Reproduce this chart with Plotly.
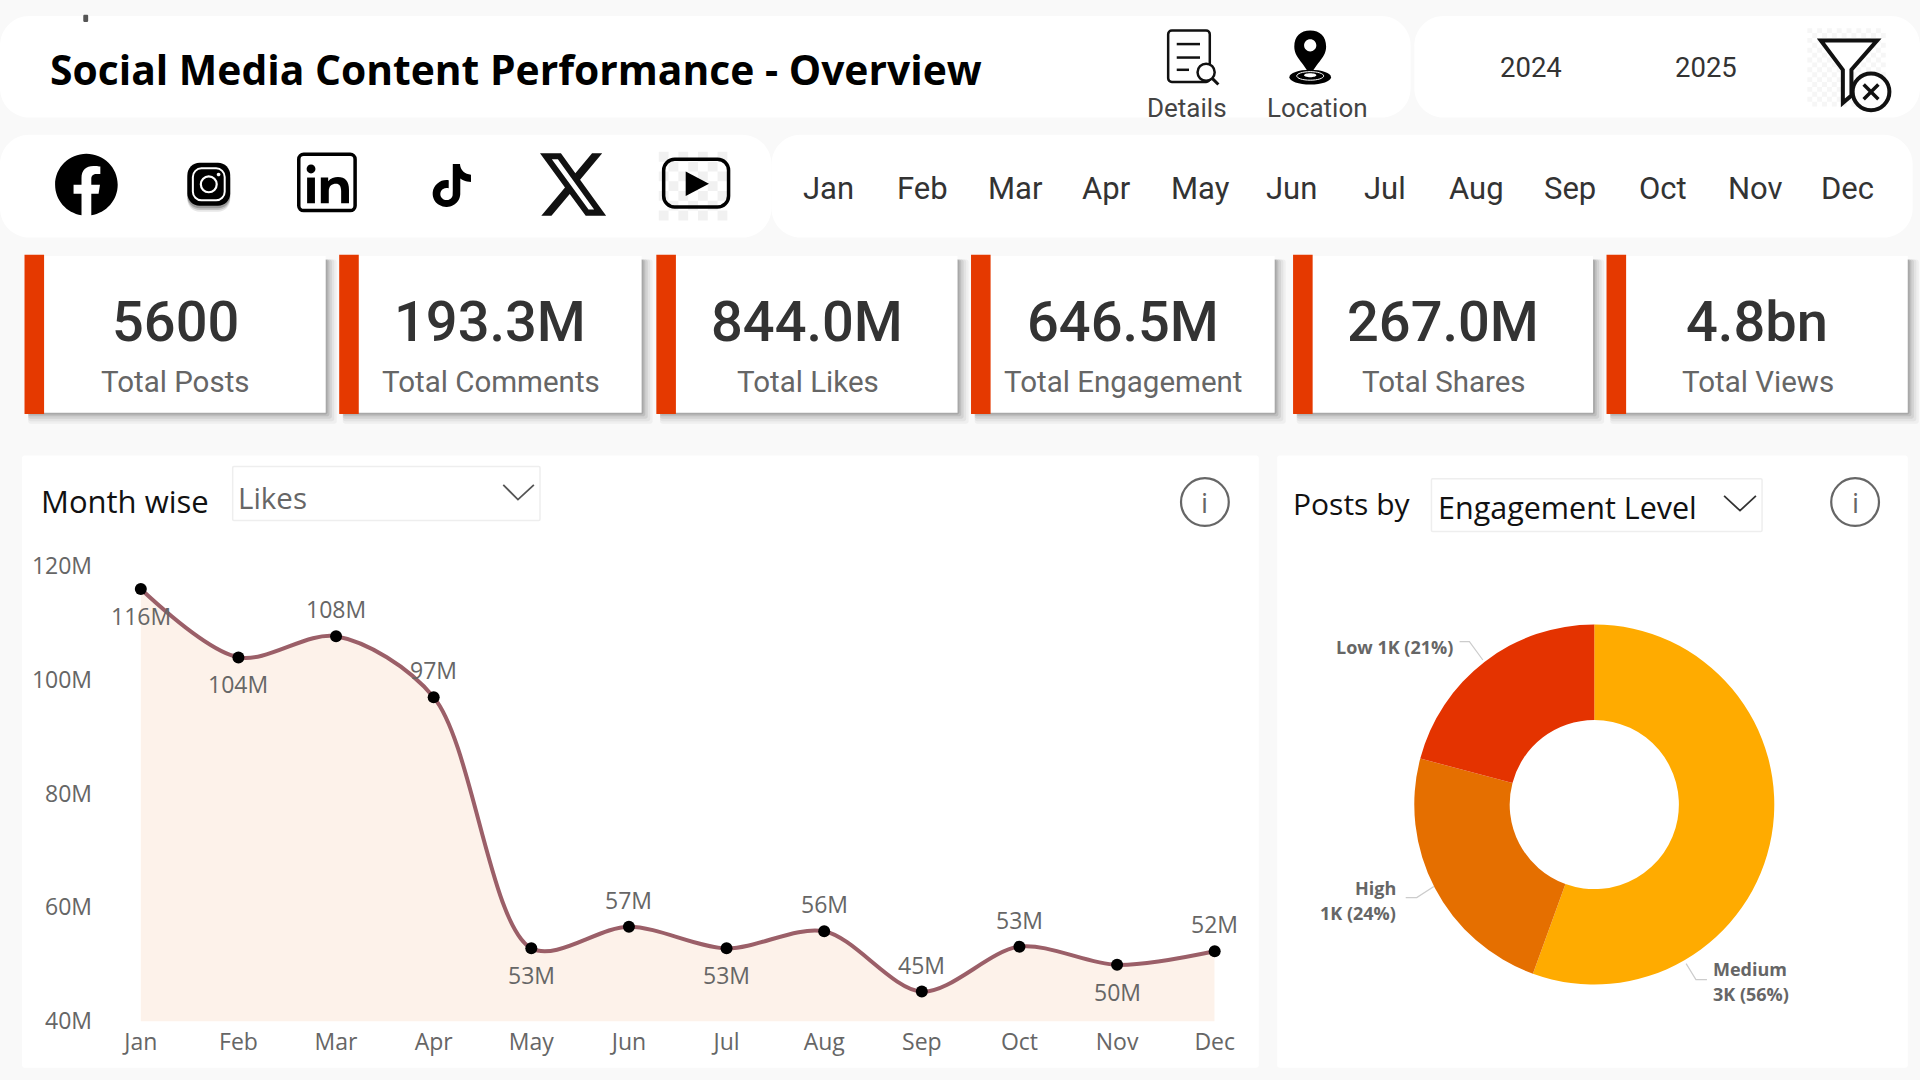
import re
import plotly.graph_objects as go

# ---------- data ----------
months = ["Jan", "Feb", "Mar", "Apr", "May", "Jun", "Jul", "Aug", "Sep", "Oct", "Nov", "Dec"]
likes_m = [115.9, 103.9, 107.6, 96.9, 52.8, 56.6, 52.8, 55.8, 45.2, 53.1, 49.9, 52.3]
y_ticks = [40, 60, 80, 100, 120]
y_tick_labels = ["40M", "60M", "80M", "100M", "120M"]
levels = ["Medium", "High", "Low"]
level_posts = [3110, 1320, 1170]
level_short = ["3K", "1K", "1K"]
level_pct = [56, 24, 21]
kpi_values = ["5600", "193.3M", "844.0M", "646.5M", "267.0M", "4.8bn"]
kpi_names = ["Total Posts", "Total Comments", "Total Likes", "Total Engagement", "Total Shares", "Total Views"]
years = ["2024", "2025"]

# ---------- page helpers (coordinates on a 1568 x 882 sheet) ----------
W, H = 1568.0, 882.0
shapes, notes = [], []
SEGOE = "Open Sans"
DIN = "Roboto"


def transform(d, sx=1.0, sy=1.0, ox=0.0, oy=0.0):
    toks = re.findall(r"[MmLlHhVvCcQqSsZz]|[-+]?(?:\d*\.\d+|\d+\.?)", d)
    out, i, cmd = [], 0, None
    cx = cy = sx0 = sy0 = 0.0
    lc = None

    def pt(x, y):
        return f"{(ox + sx * x) / W:.5f},{1 - (oy + sy * y) / H:.5f}"

    def num():
        nonlocal i
        v = float(toks[i])
        i += 1
        return v

    while i < len(toks):
        if re.match(r"[A-Za-z]", toks[i]):
            cmd = toks[i]
            i += 1
            if cmd in "Zz":
                out.append("Z")
                cx, cy = sx0, sy0
                continue
        rel = cmd.islower()
        c = cmd.upper()
        if c == "M" or c == "L":
            x, y = num(), num()
            if rel:
                x, y = x + cx, y + cy
            out.append(("M" if c == "M" else "L") + pt(x, y))
            if c == "M":
                sx0, sy0 = x, y
                cmd = "l" if rel else "L"
            cx, cy = x, y
        elif c == "H":
            x = num()
            cx = x + cx if rel else x
            out.append("L" + pt(cx, cy))
        elif c == "V":
            y = num()
            cy = y + cy if rel else y
            out.append("L" + pt(cx, cy))
        elif c == "C" or c == "S":
            if c == "C":
                x1, y1 = num(), num()
                if rel:
                    x1, y1 = x1 + cx, y1 + cy
            else:
                x1, y1 = (2 * cx - lc[0], 2 * cy - lc[1]) if lc else (cx, cy)
            x2, y2, x, y = num(), num(), num(), num()
            if rel:
                x2, y2, x, y = x2 + cx, y2 + cy, x + cx, y + cy
            out.append("C" + pt(x1, y1) + " " + pt(x2, y2) + " " + pt(x, y))
            lc = (x2, y2)
            cx, cy = x, y
        elif c == "Q":
            x1, y1, x, y = num(), num(), num(), num()
            if rel:
                x1, y1, x, y = x1 + cx, y1 + cy, x + cx, y + cy
            out.append("Q" + pt(x1, y1) + " " + pt(x, y))
            cx, cy = x, y
    return " ".join(out)


def draw(d, fill=None, stroke=None, width=0, **tf):
    shapes.append(dict(
        type="path", xref="paper", yref="paper", layer="below", path=transform(d, **tf),
        fillcolor=fill if fill else "rgba(0,0,0,0)",
        line=dict(color=stroke if stroke else "rgba(0,0,0,0)", width=width),
    ))


def rr(x0, y0, x1, y1, r):
    k = r * 0.45
    return (f"M{x0 + r} {y0}L{x1 - r} {y0}C{x1 - k} {y0} {x1} {y0 + k} {x1} {y0 + r}"
            f"L{x1} {y1 - r}C{x1} {y1 - k} {x1 - k} {y1} {x1 - r} {y1}"
            f"L{x0 + r} {y1}C{x0 + k} {y1} {x0} {y1 - k} {x0} {y1 - r}"
            f"L{x0} {y0 + r}C{x0} {y0 + k} {x0 + k} {y0} {x0 + r} {y0}Z")


def ell(cx, cy, rx, ry=None):
    ry = rx if ry is None else ry
    a, b = rx * 0.5523, ry * 0.5523
    return (f"M{cx - rx} {cy}C{cx - rx} {cy - b} {cx - a} {cy - ry} {cx} {cy - ry}"
            f"C{cx + a} {cy - ry} {cx + rx} {cy - b} {cx + rx} {cy}"
            f"C{cx + rx} {cy + b} {cx + a} {cy + ry} {cx} {cy + ry}"
            f"C{cx - a} {cy + ry} {cx - rx} {cy + b} {cx - rx} {cy}Z")


def checker(x0, y0, x1, y1, step, color):
    parts = []
    for r in range(int((y1 - y0) // step)):
        for c in range(int((x1 - x0) // step)):
            if (r + c) % 2 == 0:
                a, b = x0 + c * step, y0 + r * step
                parts.append(f"M{a} {b}L{a + step} {b}L{a + step} {b + step}L{a} {b + step}Z")
    draw("".join(parts), fill=color)


def text(x, y, s, size, color="#333333", family=SEGOE, anchor="center", weight="normal"):
    notes.append(dict(
        xref="paper", yref="paper", x=x / W, y=1 - y / H, text=s, showarrow=False,
        xanchor=anchor, yanchor="middle", align=anchor,
        font=dict(size=size, color=color, family=family, weight=weight),
    ))


# ---------- panels ----------
WHITE = "#FFFFFF"
draw(rr(0, 13, 1152, 96, 24), fill=WHITE)
draw(rr(1155, 13, 1568, 96, 24), fill=WHITE)
draw(rr(0, 110, 630, 194, 24), fill=WHITE)
draw(rr(630, 110, 1562, 194, 24), fill=WHITE)
draw(rr(18, 372, 1028, 872, 2), fill=WHITE)
draw(rr(1043, 372, 1558, 872, 2), fill=WHITE)
draw(rr(68, 12, 72, 18, 1), fill="#555555")

# header
text(39, 56, "Social Media Content Performance - Overview", 40.8, color="#000000", anchor="left", weight="bold")
text(969, 88, "Details", 26, color="#444444", family=DIN)
text(1076, 88, "Location", 26, color="#444444", family=DIN)
for xc, yr in zip([1250, 1393], years):
    text(xc, 55, yr, 27.5, color="#333333", family=DIN)

# details icon
draw(rr(954, 25, 988, 67, 3), fill=WHITE, stroke="#111111", width=2.5)
for yy, x2 in [(36, 980), (47, 980), (57, 971)]:
    draw(f"M961 {yy}L{x2} {yy}", stroke="#111111", width=2.5)
draw(ell(985, 59, 7), fill=WHITE, stroke="#111111", width=2.5)
draw("M990 64L995 69", stroke="#111111", width=3)

# location icon
draw("M1070 62C1064 50 1057 47 1057 38C1057 30 1062 25 1070 25C1078 25 1083 30 1083 38C1083 47 1076 50 1070 62Z"
     + ell(1070, 37, 5), fill="#000000")
draw(ell(1070, 63, 17, 6), fill="#000000")
draw(ell(1070, 62, 11, 3.5), stroke="#FFFFFF", width=1)
draw(ell(1070, 61.5, 5, 1.6), fill="#FFFFFF")

# filter-clear icon
checker(1476, 23, 1541, 88, 4, "#F6F6F6")
draw("M1487 33L1533 33L1512 57L1512 78L1505 84L1505 57Z", stroke="#111111", width=4, fill=WHITE)
draw(ell(1528, 75, 15), fill=WHITE, stroke="#111111", width=4)
draw("M1522 69L1534 81M1534 69L1522 81", stroke="#111111", width=3.5)

# social icons
FB = ("M24 12.073c0-6.627-5.373-12-12-12s-12 5.373-12 12c0 5.99 4.388 10.954 10.125 11.854v-8.385H7.078v-3.47h3.047"
      "V9.43c0-3.007 1.792-4.669 4.533-4.669 1.312 0 2.686.235 2.686.235v2.953H15.83c-1.491 0-1.956.925-1.956 1.874"
      "v2.25h3.328l-.532 3.47h-2.796v8.385C19.612 23.027 24 18.062 24 12.073z")
XI = "M18.901 1.153h3.68l-8.04 9.19L24 22.846h-7.406l-5.8-7.584-6.638 7.584H.474l8.6-9.83L0 1.154h7.594l5.243 6.932ZM17.61 20.644h2.039L6.486 3.24H4.298Z"
TT = ("M12.525.02c1.31-.02 2.61-.01 3.91-.02.08 1.53.63 3.09 1.75 4.17 1.12 1.11 2.7 1.62 4.24 1.79v4.03c-1.44-.05-2.89-.35-4.2-.97"
      "-.57-.26-1.1-.59-1.62-.93-.01 2.92.01 5.84-.02 8.75-.08 1.4-.54 2.79-1.35 3.94-1.31 1.92-3.58 3.17-5.91 3.21-1.43.08-2.86-.31-4.08-1.03"
      "-2.02-1.19-3.44-3.37-3.65-5.71-.02-.5-.03-1-.01-1.49.18-1.9 1.12-3.72 2.58-4.96 1.66-1.44 3.98-2.13 6.15-1.72.02 1.48-.04 2.96-.04 4.44"
      "-.99-.32-2.15-.23-3.02.37-.63.41-1.11 1.04-1.36 1.75-.21.51-.15 1.07-.14 1.61.24 1.64 1.82 3.02 3.5 2.87 1.12-.01 2.19-.66 2.77-1.61"
      ".19-.33.4-.67.41-1.06.1-1.79.06-3.57.07-5.36.01-4.03-.01-8.05.02-12.07z")
draw(FB, fill="#000000", sx=2.13, sy=2.1, ox=45, oy=125.5)
draw(XI, fill="#111111", sx=2.25, sy=2.35, ox=441, oy=122.5)
draw(TT, fill="#000000", sx=1.5, sy=1.46, ox=351, oy=134)
# instagram
for grow, op in [(4, 0.12), (2.5, 0.2), (1, 0.3)]:
    draw(rr(153, 136, 188, 169 + grow, 10), fill=f"rgba(60,60,60,{op})")
draw(rr(153, 133, 188, 168, 10), fill="#000000")
draw(rr(157.5, 137.5, 183.5, 163.5, 7), fill="#000000", stroke="#FFFFFF", width=2)
draw(ell(170.5, 150.5, 6.5), stroke="#FFFFFF", width=2.2)
draw(ell(178.5, 142.5, 1.5), fill="#FFFFFF")
# linkedin
draw(rr(244, 126, 290, 172, 4), fill=WHITE, stroke="#000000", width=3.5)
draw(ell(254, 138, 3.6), fill="#000000")
draw("M250.8 145L257.2 145L257.2 166L250.8 166Z", fill="#000000")
draw("M262 145L268 145L268 148C270 145.5 273 144.5 276 144.5C282 144.5 285 148 285 155L285 166L278.6 166L278.6 156"
     "C278.6 152 277 150 274.500 150C271 150 268.500 152 268.500 156L268.500 166L262 166Z", fill="#000000")
# youtube
checker(538, 124, 598, 180, 8, "#F1F1F1")
draw(rr(542, 130, 595, 169, 9), stroke="#000000", width=3.5)
draw("M560 140L560 160L579 150Z", fill="#000000")

# month slicer
slicer_x = [677, 753, 829, 904, 980, 1055, 1131, 1206, 1282, 1358, 1434, 1509]
for xc, m in zip(slicer_x, months):
    text(xc, 154, m, 31, color="#333333", family=DIN)

# KPI cards
card_left = [20, 277, 536, 793, 1056, 1312]
card_right = [266, 524, 782, 1041, 1301, 1558]
for x0, x1, val, name in zip(card_left, card_right, kpi_values, kpi_names):
    for off, op in [(9, 0.06), (7, 0.08), (5, 0.12), (3, 0.16), (1.5, 0.22)]:
        draw(rr(x0 + 3, 212, x1 + off, 337 + off, 2), fill=f"rgba(90,90,90,{op})")
    draw(rr(x0, 209, x1, 337, 0.1), fill=WHITE)
    draw(rr(x0, 208, x0 + 16, 338, 0.1), fill="#E53900")
    xc = (x0 + x1) / 2
    text(xc, 263, val, 56, color="#333333", family=DIN, weight=500)
    text(xc + 0.5, 312, name, 29.5, color="#666666", family=DIN)

# chart headers
text(32, 409, "Month wise", 31, color="#111111", anchor="left")
draw(rr(190, 381, 441, 425, 1), fill=WHITE, stroke="#EEEEEE", width=1.5)
text(193, 406, "Likes", 29.5, color="#666666", anchor="left")
draw("M411 396L423 408L436 396", stroke="#555555", width=1.8)
draw(ell(984, 410, 19.5), stroke="#666666", width=2.2)
text(984, 410, "i", 28, color="#666666")

text(1054, 411, "Posts by", 30, color="#111111", anchor="left")
draw(rr(1169, 391, 1439, 434, 1), fill=WHITE, stroke="#EEEEEE", width=1.5)
text(1173, 414, "Engagement Level", 30.5, color="#111111", anchor="left")
draw("M1408 405L1421 417L1434 405", stroke="#333333", width=1.8)
draw(ell(1515, 410, 19.5), stroke="#666666", width=2.2)
text(1515, 410, "i", 28, color="#666666")

# donut labels and leaders
draw("M1192 524L1200 524L1211 539", stroke="#CCCCCC", width=1.2)
draw("M1148 733L1157 733L1171 724", stroke="#CCCCCC", width=1.2)
draw("M1377 787L1385 800L1394 800", stroke="#CCCCCC", width=1.2)
LBL = dict(size=18, color="#666666", weight="bold")
idx = {n: i for i, n in enumerate(levels)}
i = idx["Low"]
text(1188, 528, f"{levels[i]} {level_short[i]} ({level_pct[i]}%)", anchor="right", **LBL)
i = idx["High"]
text(1142, 725, levels[i], anchor="right", **LBL)
text(1142, 746, f"{level_short[i]} ({level_pct[i]}%)", anchor="right", **LBL)
i = idx["Medium"]
text(1397, 791, levels[i], anchor="left", **LBL)
text(1397, 812, f"{level_short[i]} ({level_pct[i]}%)", anchor="left", **LBL)

# ---------- data labels on the line ----------
label_side = [-1, -1, 1, 1, -1, 1, -1, 1, 1, 1, -1, 1]
for m, v, side in zip(months, likes_m, label_side):
    notes.append(dict(
        xref="x", yref="y", x=m, y=v, text=f"{v:.0f}M", showarrow=False, yshift=27 * side,
        xanchor="center", yanchor="middle", font=dict(size=23, color="#666666", family=SEGOE),
    ))

# ---------- traces ----------
line = go.Scatter(
    x=months, y=likes_m, mode="lines+markers", cliponaxis=False,
    line=dict(color="#9B5F68", width=4, shape="spline", smoothing=0.9),
    marker=dict(color="#000000", size=12),
    fill="tozeroy", fillcolor="#FDF2EA",
    hoverinfo="x+y",
)
donut = go.Pie(
    labels=levels, values=level_posts, hole=0.47, sort=False, direction="clockwise", rotation=0,
    marker=dict(colors=["#FFAB00", "#E56F00", "#E43300"], line=dict(width=0)),
    textinfo="none", domain=dict(x=[(1302 - 147) / W, (1302 + 147) / W], y=[1 - (657 + 147) / H, 1 - (657 - 147) / H]),
)

fig = go.Figure([line, donut])
fig.update_layout(
    width=1920, height=1080, autosize=False, margin=dict(l=0, r=0, t=0, b=0, pad=0, autoexpand=False),
    paper_bgcolor="#F9F9F9", plot_bgcolor="rgba(0,0,0,0)", showlegend=False,
    shapes=shapes, annotations=notes, font=dict(family=SEGOE),
    xaxis=dict(domain=[76 / W, 992 / W], range=[-0.489, 11], type="category", categoryorder="array", categoryarray=months,
               showgrid=False, zeroline=False, showline=False, ticks="", ticklabelstandoff=5,
               tickfont=dict(size=23, color="#666666")),
    yaxis=dict(domain=[1 - 834 / H, 1 - 462 / H], range=[40, 120], tickvals=y_ticks, ticktext=y_tick_labels,
               showgrid=False, zeroline=False, showline=False, ticks="", tickfont=dict(size=23, color="#666666")),
)
fig.write_html("out.html", config=dict(displayModeBar=False),
               post_script="document.body.style.margin='0';document.body.style.overflow='hidden';")
